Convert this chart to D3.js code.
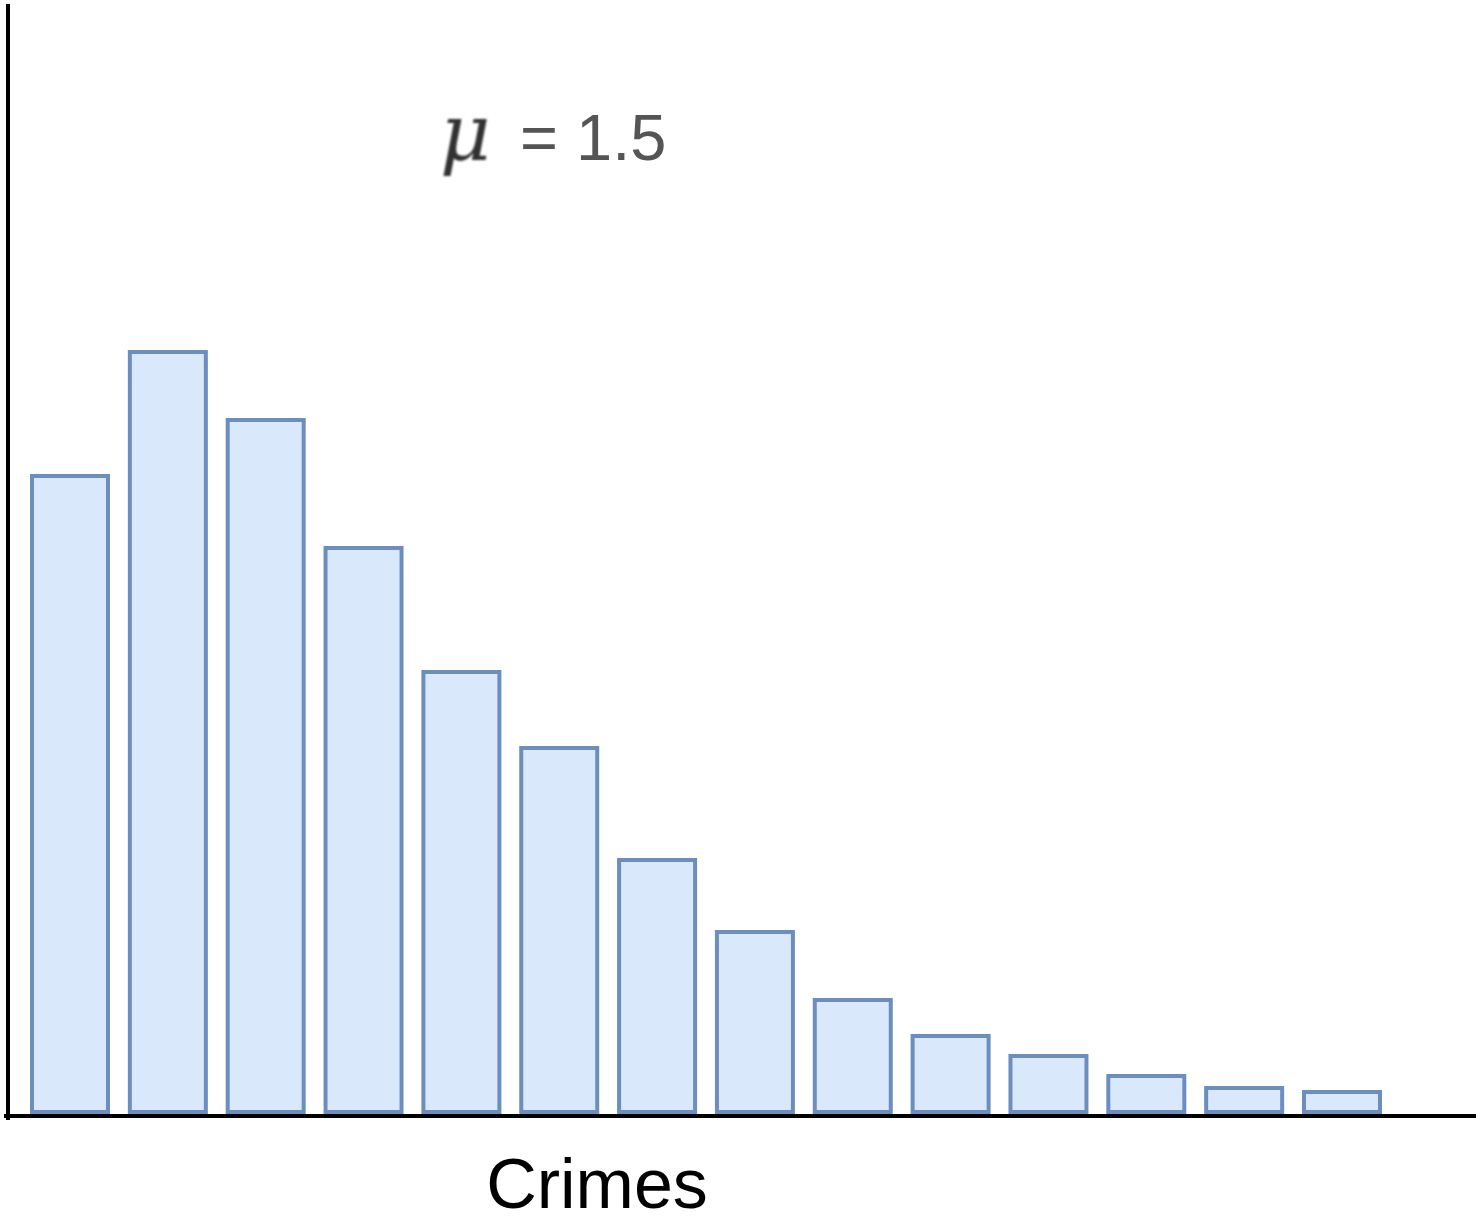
<!DOCTYPE html>
<html>
<head>
<meta charset="utf-8">
<script src="https://cdn.jsdelivr.net/npm/d3@7"></script>
<style>
  html, body { margin: 0; padding: 0; background: #fff; }
  svg { display: block; }
</style>
</head>
<body>
<div id="chart"></div>
<script>
// Bar data (number of crimes per period, relative counts)
var categories = ["0", "1", "2", "3", "4", "5", "6", "7", "8", "9", "10", "11", "12", "13"];
var counts = [159, 190, 173, 141, 110, 91, 63, 45, 28, 19, 14, 9, 6, 5];
var axisLabel = "Crimes";
var meanLabel = "= 1.5";

var width = 1480, height = 1230;

var svg = d3.select("#chart")
    .append("svg")
    .attr("width", width)
    .attr("height", height);

// blur for the mu glyph (it looks like a pasted image)
svg.append("defs")
    .append("filter")
    .attr("id", "soft")
    .append("feGaussianBlur")
    .attr("stdDeviation", 1.1);

// Scales
var x = d3.scaleBand()
    .domain(categories)
    .range([32, 1380])
    .paddingInner(0.2233)
    .paddingOuter(0);

var y = d3.scaleLinear()
    .domain([0, 278])
    .range([1112, 0]);

// Bars
svg.append("g")
    .selectAll("rect")
    .data(counts)
    .enter()
    .append("rect")
    .attr("x", function (d, i) { return x(categories[i]); })
    .attr("y", function (d) { return y(d); })
    .attr("width", x.bandwidth())
    .attr("height", function (d) { return y(0) - y(d); })
    .style("fill", "#dae8fc")
    .style("stroke", "#6c8ebf")
    .style("stroke-width", 4);

// Axes (plain lines, no ticks)
svg.append("line")
    .attr("x1", 4).attr("x2", 1476)
    .attr("y1", 1116).attr("y2", 1116)
    .style("stroke", "#000")
    .style("stroke-width", 4);

svg.append("line")
    .attr("x1", 8).attr("x2", 8)
    .attr("y1", 4).attr("y2", 1120)
    .style("stroke", "#000")
    .style("stroke-width", 4);

// Mean annotation
svg.append("text")
    .attr("x", 440)
    .attr("y", 160)
    .attr("filter", "url(#soft)")
    .style("font-family", "'DejaVu Serif', 'Liberation Serif', serif")
    .style("font-style", "italic")
    .style("font-size", "78px")
    .style("fill", "#333")
    .text("\u03bc");

svg.append("text")
    .attr("x", 520)
    .attr("y", 160)
    .style("font-family", "'Liberation Sans', Arial, sans-serif")
    .style("font-size", "65px")
    .style("fill", "#555")
    .text(meanLabel);

// X axis label
svg.append("text")
    .attr("x", 597)
    .attr("y", 1208)
    .style("text-anchor", "middle")
    .style("font-family", "'Liberation Sans', Arial, sans-serif")
    .style("font-size", "70px")
    .style("fill", "#000")
    .text(axisLabel);
</script>
</body>
</html>
